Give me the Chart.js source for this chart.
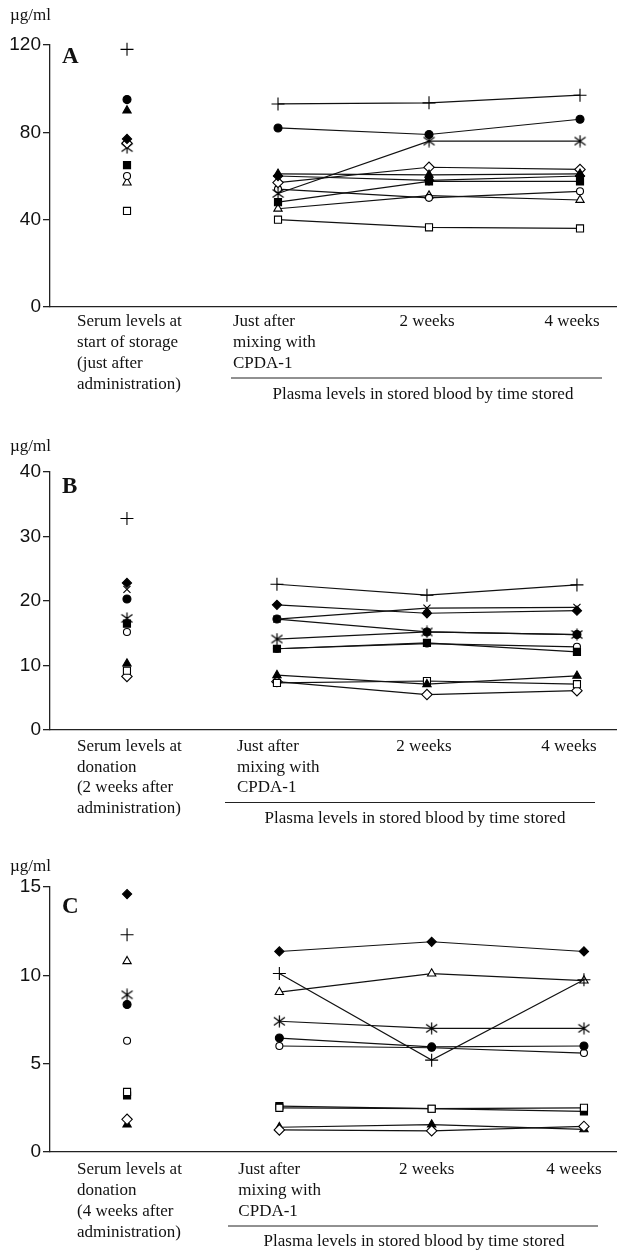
<!DOCTYPE html>
<html>
<head>
<meta charset="utf-8">
<script src="https://cdn.jsdelivr.net/npm/chart.js@4.4.0/dist/chart.umd.min.js"></script>
<style>
  html, body { margin: 0; padding: 0; background: #fff; }
  .panel { position: absolute; left: 0; width: 617px; }
  canvas { display: block; }
</style>
</head>
<body>
<div class="panel" style="top:0"><canvas id="chartA" width="617" height="410"></canvas></div>
<div class="panel" style="top:410px"><canvas id="chartB" width="617" height="425"></canvas></div>
<div class="panel" style="top:820px"><canvas id="chartC" width="617" height="431"></canvas></div>
<script>
// x positions: 0 = serum, 1 = just after mixing, 2 = 2 weeks, 3 = 4 weeks
var justAfterLabel = ['Just after', 'mixing with', 'CPDA-1'];
var weekLabels = ['2 weeks', '4 weeks'];
var plasmaLabel = 'Plasma levels in stored blood by time stored';

// Panel A
var serumLabelA = ['Serum levels at', 'start of storage', '(just after', 'administration)'];
var markersA   = ['cross', 'dot', 'tri', 'dia', 'diaOpen', 'star', 'sq', 'dotOpen', 'triOpen', 'sqOpen'];
var serumA     = [118, 95, 90, 77, 75, 73, 65, 60, 57, 44];
var justAfterA = [93, 82, 61, 60, 57, 52, 48, 54, 45, 40];
var week2A     = [93.5, 79, 60.5, 58, 64, 76, 57.5, 50, 51, 36.5];
var week4A     = [97, 86, 61, 60, 63, 76, 57.5, 53, 49, 36];
var ticksA     = [0, 40, 80, 120];

// Panel B
var serumLabelB = ['Serum levels at', 'donation', '(2 weeks after', 'administration)'];
var markersB   = ['cross', 'dia', 'x', 'dot', 'star', 'sq', 'dotOpen', 'tri', 'sqOpen', 'diaOpen'];
var serumB     = [32.8, 22.8, 21.8, 20.3, 17.3, 16.5, 15.2, 10.3, 9.2, 8.3];
var justAfterB = [22.6, 19.4, 17.2, 17.2, 14.1, 12.6, 12.6, 8.5, 7.3, 7.5];
var week2B     = [20.9, 18.1, 18.9, 15.2, 15.2, 13.5, 13.4, 7.1, 7.6, 5.5];
var week4B     = [22.5, 18.5, 19.0, 14.8, 14.8, 12.1, 12.9, 8.4, 7.1, 6.1];
var ticksB     = [0, 10, 20, 30, 40];

// Panel C
var serumLabelC = ['Serum levels at', 'donation', '(4 weeks after', 'administration)'];
var markersC   = ['dia', 'cross', 'triOpen', 'star', 'dot', 'dotOpen', 'sqOpen', 'sq', 'diaOpen', 'tri'];
var serumC     = [14.6, 12.3, 10.8, 8.9, 8.35, 6.3, 3.4, 3.2, 1.85, 1.55];
var justAfterC = [11.35, 10.1, 9.05, 7.4, 6.45, 6.0, 2.5, 2.6, 1.25, 1.4];
var week2C     = [11.9, 5.2, 10.1, 7.0, 5.95, 5.9, 2.45, 2.45, 1.2, 1.55];
var week4C     = [11.35, 9.75, 9.7, 7.0, 6.0, 5.6, 2.5, 2.3, 1.45, 1.28];
var ticksC     = [0, 5, 10, 15];

// six-armed asterisk marker
function asteriskImage() {
  var c = document.createElement('canvas');
  c.width = 13; c.height = 13;
  var g = c.getContext('2d');
  g.strokeStyle = '#000';
  g.lineWidth = 1.2;
  g.beginPath();
  g.moveTo(6.5, 0.5); g.lineTo(6.5, 12.5);
  g.moveTo(1, 2.5); g.lineTo(12, 10.5);
  g.moveTo(12, 2.5); g.lineTo(1, 10.5);
  g.stroke();
  return c;
}
var starImg = asteriskImage();

var markerStyle = {
  cross:   { style: 'cross', r: 6.5, fill: '#000' },
  x:       { style: 'crossRot', r: 5, fill: '#000' },
  star:    { style: starImg, r: 6, fill: '#000' },
  dot:     { style: 'circle', r: 4, fill: '#000' },
  dotOpen: { style: 'circle', r: 3.5, fill: '#fff' },
  tri:     { style: 'triangle', r: 4.8, fill: '#000' },
  triOpen: { style: 'triangle', r: 4.8, fill: '#fff' },
  dia:     { style: 'rectRot', r: 4.6, fill: '#000' },
  diaOpen: { style: 'rectRot', r: 5.2, fill: '#fff' },
  sq:      { style: 'rect', r: 5, fill: '#000' },
  sqOpen:  { style: 'rect', r: 5, fill: '#fff' }
};

function buildDatasets(markers, serum, just, w2, w4) {
  return markers.map(function (m, i) {
    var s = markerStyle[m];
    return {
      data: [serum[i], just[i], w2[i], w4[i]].map(function (v, k) { return { x: k, y: v }; }),
      borderColor: '#111',
      borderWidth: 1.2,
      pointStyle: s.style,
      pointRadius: s.r,
      pointBackgroundColor: s.fill,
      pointBorderColor: '#000',
      pointBorderWidth: 1.1,
      clip: false,
      // serum value is not joined to the stored-blood line
      segment: {
        borderColor: function (ctx) { return ctx.p0DataIndex === 0 ? 'rgba(0,0,0,0)' : '#111'; }
      }
    };
  });
}

var panelText = {
  id: 'panelText',
  afterDraw: function (chart, args, o) {
    var ctx = chart.ctx;
    var xs = chart.scales.x;
    var base = chart.chartArea.bottom;
    var px = [0, 1, 2, 3].map(function (k) { return xs.getPixelForValue(k); });
    ctx.save();
    ctx.fillStyle = '#111';
    ctx.strokeStyle = '#222';
    ctx.font = '17px "Liberation Serif", "Times New Roman", serif';
    ctx.textBaseline = 'middle';
    ctx.textAlign = 'left';
    o.serumLabel.forEach(function (line, i) {
      ctx.fillText(line, px[0] - 50, base + o.labelY + i * 20.7);
    });
    justAfterLabel.forEach(function (line, i) {
      ctx.fillText(line, px[1] + o.jadx, base + o.labelY + i * 20.7);
    });
    ctx.textAlign = 'center';
    ctx.fillText(weekLabels[0], px[2] + o.w2dx, base + o.labelY);
    ctx.fillText(weekLabels[1], px[3] + o.w4dx, base + o.labelY);
    ctx.lineWidth = 1;
    ctx.beginPath();
    ctx.moveTo(o.ruleX[0], base + o.ruleY);
    ctx.lineTo(o.ruleX[1], base + o.ruleY);
    ctx.stroke();
    ctx.fillText(plasmaLabel, o.plasmaX, base + o.plasmaY);
    ctx.textAlign = 'left';
    ctx.fillText('\u00b5g/ml', 10, o.unitY);
    ctx.font = 'bold 23px "Liberation Serif", "Times New Roman", serif';
    ctx.fillText(o.letter, 62, o.letterY);
    ctx.restore();
  }
};

function makeChart(id, cfg, datasets) {
  return new Chart(document.getElementById(id), {
    type: 'line',
    data: { datasets: datasets },
    options: {
      responsive: false,
      animation: false,
      events: [],
      devicePixelRatio: 1,
      layout: { autoPadding: false, padding: { top: cfg.top, bottom: cfg.bottom, left: 0, right: 0 } },
      plugins: {
        legend: { display: false },
        tooltip: { enabled: false },
        panelText: cfg.text
      },
      scales: {
        x: {
          type: 'linear',
          min: cfg.xMin,
          max: cfg.xMax,
          ticks: { display: false },
          grid: { display: false },
          border: { display: true, color: '#222', width: 1.3 },
          afterFit: function (s) { s.height = 0; }
        },
        y: {
          min: 0,
          max: cfg.ticks[cfg.ticks.length - 1],
          afterBuildTicks: function (s) { s.ticks = cfg.ticks.map(function (v) { return { value: v }; }); },
          ticks: {
            font: { family: '"Liberation Sans", Arial, sans-serif', size: 19 },
            color: '#111',
            padding: 2
          },
          grid: { drawOnChartArea: false, drawTicks: true, tickLength: 7, color: '#222', lineWidth: 1.3 },
          border: { color: '#222', width: 1.3 },
          afterFit: function (s) { s.width = 50; }
        }
      }
    },
    plugins: [panelText]
  });
}

makeChart('chartA', {
  top: 45, bottom: 103, xMin: -0.51, xMax: 3.245, ticks: ticksA,
  text: { serumLabel: serumLabelA, labelY: 15, jadx: -45, w2dx: -2, w4dx: -8, ruleX: [231, 602], ruleY: 71,
          plasmaX: 423, plasmaY: 88, unitY: 16, letter: 'A', letterY: 57 }
}, buildDatasets(markersA, serumA, justAfterA, week2A, week4A));

makeChart('chartB', {
  top: 62, bottom: 105, xMin: -0.513, xMax: 3.267, ticks: ticksB,
  text: { serumLabel: serumLabelB, labelY: 16.5, jadx: -40, w2dx: -3, w4dx: -8, ruleX: [225, 595], ruleY: 72.5,
          plasmaX: 415, plasmaY: 88.5, unitY: 37, letter: 'B', letterY: 77 }
}, buildDatasets(markersB, serumB, justAfterB, week2B, week4B));

makeChart('chartC', {
  top: 67, bottom: 99, xMin: -0.506, xMax: 3.217, ticks: ticksC,
  text: { serumLabel: serumLabelC, labelY: 18, jadx: -41, w2dx: -5, w4dx: -10, ruleX: [228, 598], ruleY: 74,
          plasmaX: 414, plasmaY: 90, unitY: 47, letter: 'C', letterY: 87 }
}, buildDatasets(markersC, serumC, justAfterC, week2C, week4C));
</script>
</body>
</html>
